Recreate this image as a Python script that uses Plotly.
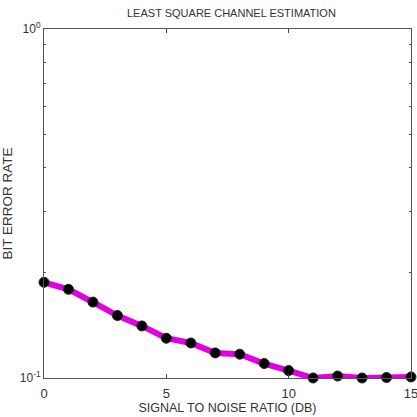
import plotly.graph_objects as go

snr_db = [0, 1, 2, 3, 4, 5, 6, 7, 8, 9, 10, 11, 12, 13, 14, 15]
ber = [0.188, 0.1795, 0.165, 0.151, 0.141, 0.130, 0.126, 0.118, 0.117, 0.110,
       0.105, 0.1, 0.1013, 0.1, 0.1003, 0.1007]
x_ticks = [0, 5, 10, 15]
y_ticks = [0.1, 1]
y_tick_text = ["10<sup>-1</sup>", "10<sup>0</sup>"]
y_minor = [0.2, 0.3, 0.4, 0.5, 0.6, 0.7, 0.8, 0.9]

txt = "#333333"
font = dict(family="Liberation Sans, Arial, sans-serif", size=12, color=txt)

fig = go.Figure()
fig.add_trace(go.Scatter(
    x=snr_db, y=ber, mode="lines+markers",
    line=dict(color="#e000e0", width=6),
    marker=dict(color="black", size=10, line=dict(color="#222", width=1)),
    cliponaxis=False, showlegend=False,
))

fig.update_layout(
    width=417, height=417,
    margin=dict(l=44, r=6, t=29, b=39),
    paper_bgcolor="white", plot_bgcolor="white",
    font=font,
    title=dict(text="LEAST SQUARE CHANNEL ESTIMATION", x=0.555, xanchor="center",
               y=0.968, yanchor="middle", font=dict(size=11, color=txt)),
    xaxis=dict(
        range=[0, 15], tickvals=x_ticks, ticks="inside", ticklen=4,
        showline=True, linecolor="#555555", linewidth=1, mirror="ticks",
        showgrid=False, zeroline=False, ticklabelstandoff=3,
        ticklabeloverflow="allow", automargin=False,
        tickfont=dict(size=13, color=txt),
        title=dict(text="SIGNAL TO NOISE RATIO (DB)", standoff=0,
                   font=dict(size=12.5, color=txt)),
    ),
    yaxis=dict(
        type="log", range=[-1, 0], tickvals=y_ticks, ticktext=y_tick_text,
        ticks="inside", ticklen=4, automargin=False,
        showline=True, linecolor="#555555", linewidth=1, mirror="ticks",
        showgrid=False, zeroline=False,
        tickfont=dict(size=12, color=txt),
        minor=dict(tickvals=y_minor, ticks="inside", ticklen=2, tickcolor="#555555"),
        title=dict(text="BIT ERROR RATE", standoff=8,
                   font=dict(size=13.5, color=txt)),
    ),
)

fig.write_html("out.html")
